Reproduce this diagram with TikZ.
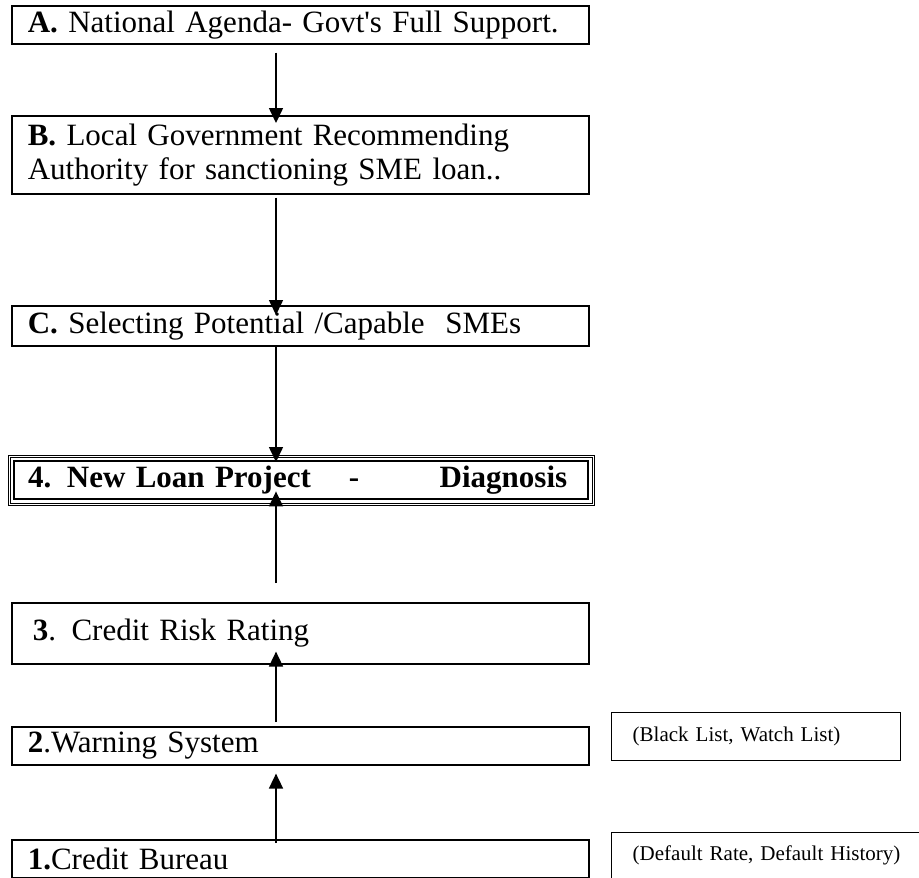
\documentclass[tikz,border=0pt]{standalone}
\usepackage{fontspec}
\setmainfont{Liberation Serif}
\usetikzlibrary{arrows.meta,positioning}

\begin{document}
\begin{tikzpicture}[x=1pt,y=-1pt]
        \def\boxwidth{577pt}
        \tikzstyle{stage} = [draw, line width=1.6pt, anchor=north west, minimum width=\boxwidth, text width=545pt, align=left, inner xsep=16pt, inner ysep=0pt, font=\fontsize{31}{34}\selectfont]
        \tikzstyle{note} = [draw, line width=1.4pt, anchor=north west, inner xsep=21pt, inner ysep=0pt, align=left, font=\fontsize{21}{24}\selectfont]
        \tikzstyle{flow} = [line width=1.6pt, -{Triangle[length=15pt,width=14pt]}]
        \useasboundingbox (0,0) rectangle (919,878);
        \clip (0,0) rectangle (919,878);
        % Column that all the arrows run along
        \coordinate (spine) at (276,0);
        % Draw the top-down chain A, B, C
        \node[stage, minimum height=38pt] (agenda) at (11,5) {\textbf{A.} National Agenda- Govt\textquotesingle s Full Support.};
        \node[stage, minimum height=78pt] (localgov) at (11,115) {\textbf{B.} Local Government Recommending\\Authority for sanctioning SME loan..};
        \node[stage, minimum height=40pt] (select) at (11,305) {\textbf{C.} Selecting Potential /Capable\ \ SMEs};
        % Draw the diagnosis box with its triple border
        \node[draw, line width=2.4pt, anchor=north west, minimum width=574pt, minimum height=38pt, text width=546pt, align=left, inner xsep=14pt, inner ysep=0pt, font=\fontsize{31}{34}\selectfont\bfseries] (diag) at (13,460) {4. New Loan Project\hspace{38pt}-\hfill Diagnosis\hspace{7pt}\mbox{}};
        \draw[line width=0.8pt] ([shift={(-2.7,-2.7)}]diag.north west) rectangle ([shift={(2.7,2.7)}]diag.south east);
        \draw[line width=0.8pt] ([shift={(-5,-5)}]diag.north west) rectangle ([shift={(5,5)}]diag.south east);
        % Draw the bottom-up chain 1, 2, 3
        \node[stage, minimum height=61pt] (rating) at (11,602) {\hspace*{5pt}\textbf{3}. Credit Risk Rating};
        \node[stage, minimum height=38pt] (warning) at (11,726) {\textbf{2}.Warning System};
        \node[stage, minimum height=38pt] (bureau) at (11,839) {\textbf{1.}Credit Bureau};
        % Draw the side notes
        \node[note, minimum width=289pt, minimum height=48pt, text width=247pt] (lists) at (611,712) {(Black List, Watch List)};
        \node[note, minimum width=330pt, minimum height=46pt, text width=288pt] (history) at (611,832) {(Default Rate, Default History)};
        % Draw the arrows
        \draw[flow, shorten <=8pt, shorten >=-8pt] (agenda.south -| spine) -- (localgov.north -| spine);
        \draw[flow, shorten <=3pt, shorten >=-10pt] (localgov.south -| spine) -- (select.north -| spine);
        \draw[flow, shorten >=-2pt] (select.south -| spine) -- (diag.north -| spine);
        \draw[flow, shorten <=19pt, shorten >=-9pt] (rating.north -| spine) -- (diag.south -| spine);
        \draw[flow, shorten <=4pt, shorten >=-13pt] (warning.north -| spine) -- (rating.south -| spine);
        \draw[flow, shorten <=-4pt, shorten >=8pt] (bureau.north -| spine) -- (warning.south -| spine);
    \end{tikzpicture}
\end{document}
